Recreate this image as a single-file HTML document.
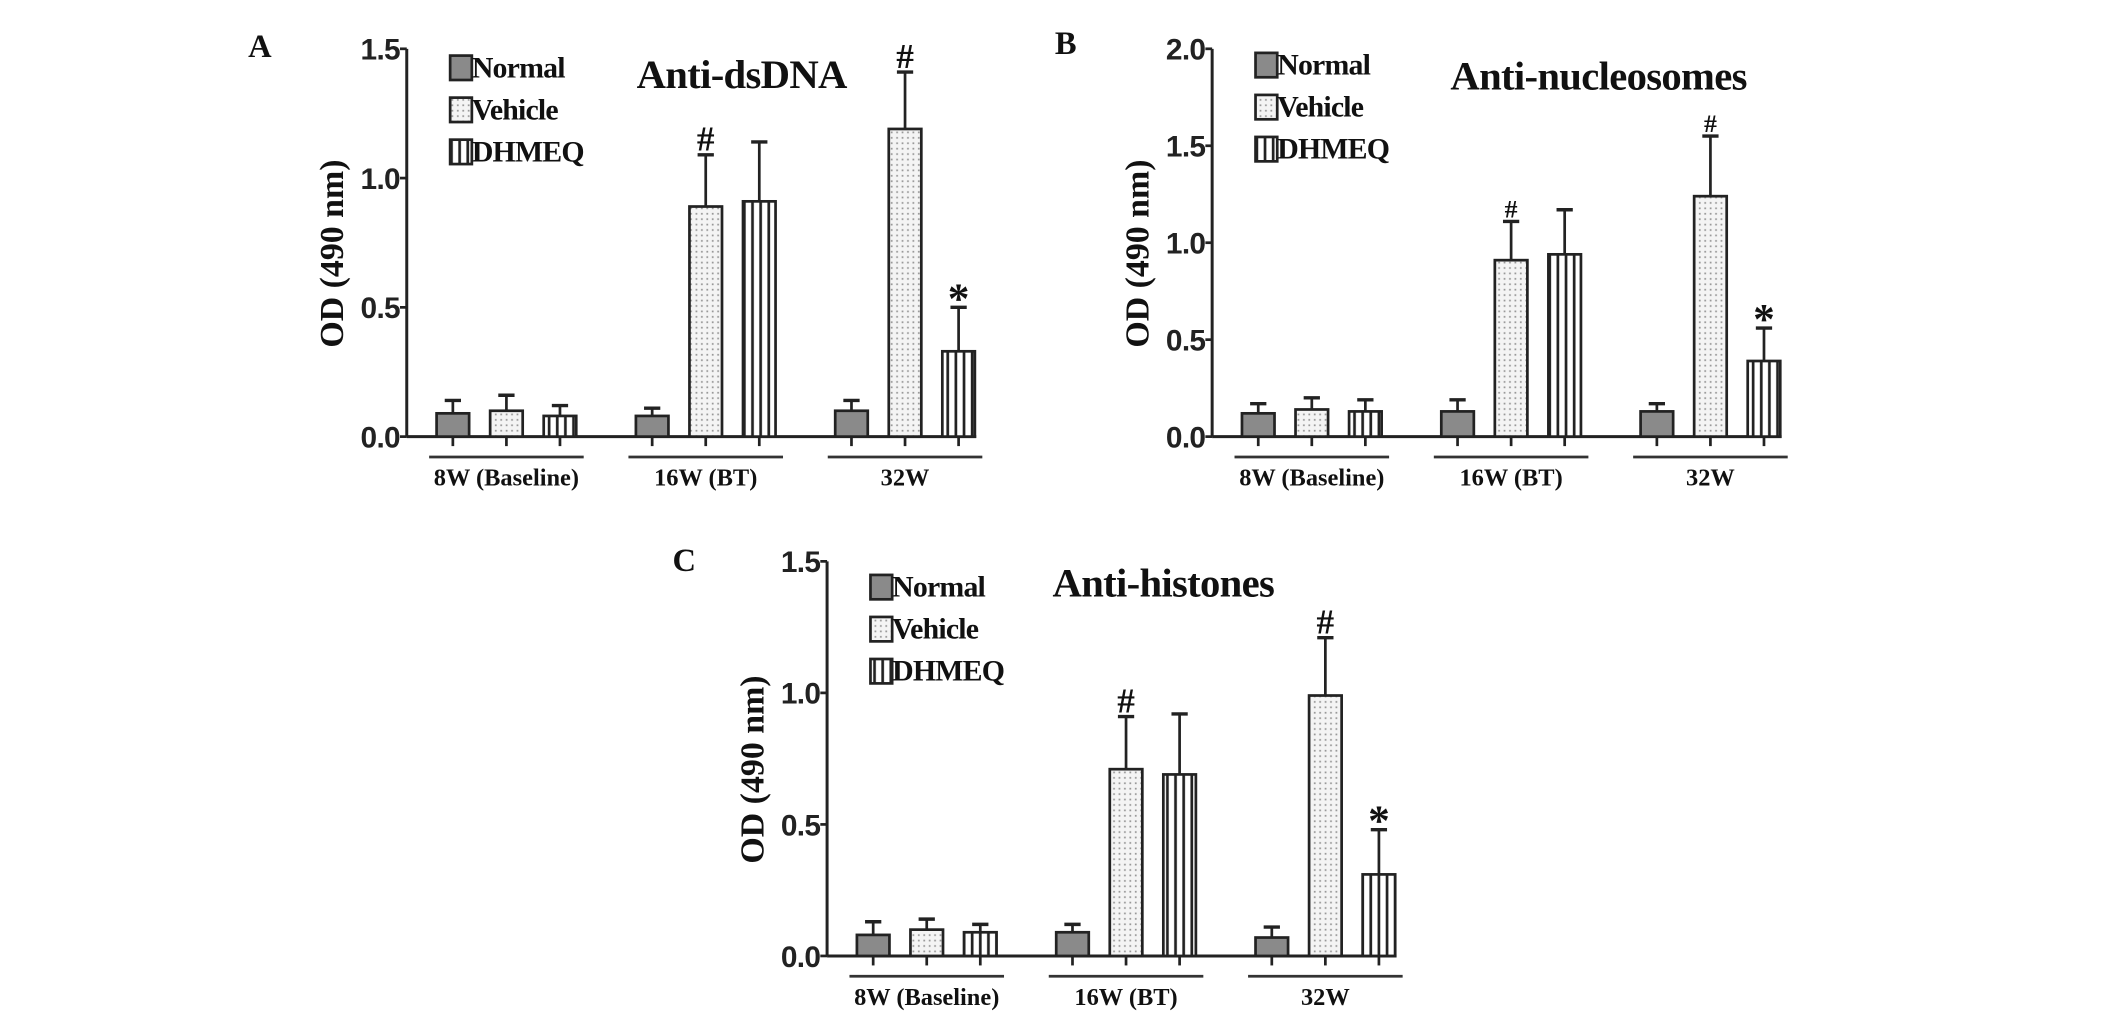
<!DOCTYPE html>
<html><head><meta charset="utf-8"><style>
html,body{margin:0;padding:0;background:#fff;}
svg{display:block;}
.tk{font-family:"Liberation Sans",sans-serif;font-weight:bold;font-size:22px;fill:#222;}
.sr{font-family:"Liberation Serif",serif;font-weight:bold;fill:#111;}
</style></head><body>
<svg id="fig" width="2126" height="1019" viewBox="0 0 1568 751.5" preserveAspectRatio="none" xmlns="http://www.w3.org/2000/svg">
<defs>
<pattern id="dots" width="4" height="4" patternUnits="userSpaceOnUse"><rect width="4" height="4" fill="#f4f4f4"/><rect x="1" y="1" width="1.3" height="1.3" fill="#999"/></pattern>
<pattern id="stripes" width="6" height="6" patternUnits="userSpaceOnUse"><rect width="6" height="6" fill="#fff"/><rect x="2" y="0" width="2" height="6" fill="#222"/></pattern>
</defs>
</svg>
<script>
const groups = ["8W (Baseline)", "16W (BT)", "32W"];
const seriesNames = ["Normal", "Vehicle", "DHMEQ"];
const aNormal = [0.09, 0.08, 0.10], aNormalErr = [0.05, 0.03, 0.04];
const aVehicle = [0.10, 0.89, 1.19], aVehicleErr = [0.06, 0.20, 0.22];
const aDhmeq = [0.08, 0.91, 0.33], aDhmeqErr = [0.04, 0.23, 0.17];
const bNormal = [0.12, 0.13, 0.13], bNormalErr = [0.05, 0.06, 0.04];
const bVehicle = [0.14, 0.91, 1.24], bVehicleErr = [0.06, 0.20, 0.31];
const bDhmeq = [0.13, 0.94, 0.39], bDhmeqErr = [0.06, 0.23, 0.17];
const cNormal = [0.08, 0.09, 0.07], cNormalErr = [0.05, 0.03, 0.04];
const cVehicle = [0.10, 0.71, 0.99], cVehicleErr = [0.04, 0.20, 0.22];
const cDhmeq = [0.09, 0.69, 0.31], cDhmeqErr = [0.03, 0.23, 0.17];
const ticksA = ["0.0", "0.5", "1.0", "1.5"];
const ticksB = ["0.0", "0.5", "1.0", "1.5", "2.0"];
const ticksC = ["0.0", "0.5", "1.0", "1.5"];
const marksA = [["", "#", "#"], ["", "", "*"]];
const marksB = [["", "#", "#"], ["", "", "*"]];
const marksC = [["", "#", "#"], ["", "", "*"]];

const svg = document.getElementById('fig');
const NS = "http://www.w3.org/2000/svg";
function mk(tag, attrs, parent) {
  const e = document.createElementNS(NS, tag);
  for (const k in attrs) e.setAttribute(k, attrs[k]);
  (parent || svg).appendChild(e);
  return e;
}
const fills = ["#8a8a8a", "url(#dots)", "url(#stripes)"];

function panel(cfg) {
  const g = mk('g', {});
  
  
  const ymax = parseFloat(cfg.ticks[cfg.ticks.length - 1]);
  const y = v => cfg.y0 - (v / ymax) * (cfg.y0 - cfg.yTop);
  const x = (gi, si) => cfg.x0 + 34 + gi * 147 + si * 39.5;
  const L = mk('text', {x: cfg.lx, y: cfg.ly, class: 'sr', 'font-size': 24}, g);
  L.textContent = cfg.letter;
  
  
  const ya = mk('line', {x1: cfg.x0, y1: cfg.yTop, x2: cfg.x0, y2: cfg.y0, stroke: '#222', 'stroke-width': 2.2}, g);
  
  
  const xa = mk('line', {x1: cfg.x0, y1: cfg.y0, x2: cfg.x0 + 420, y2: cfg.y0, stroke: '#222', 'stroke-width': 2.2}, g);
  
  
  cfg.ticks.forEach(t => {
    const v = parseFloat(t);
    mk('line', {x1: cfg.x0 - 5, y1: y(v), x2: cfg.x0, y2: y(v), stroke: '#222', 'stroke-width': 2}, g);
    const tt = mk('text', {x: cfg.x0 - 5, y: y(v) + 8, class: 'tk', 'text-anchor': 'end', 'letter-spacing': '-0.5'}, g);
    tt.textContent = t;
    
    
  });
  const yt = mk('text', {class: 'sr', 'font-size': 25, 'text-anchor': 'middle', transform: `translate(${cfg.x0 - 47},${(cfg.y0 + cfg.yTop) / 2 + 8}) rotate(-90)`}, g);
  yt.textContent = 'OD (490 nm)';
  
  
  const vals = [cfg.n, cfg.v, cfg.d], errs = [cfg.ne, cfg.ve, cfg.de];
  groups.forEach((gname, gi) => {
    for (let si = 0; si < 3; si++) {
      const cx = x(gi, si), val = vals[si][gi], er = errs[si][gi];
      const top = y(val + er);
      mk('line', {x1: cx, y1: y(val), x2: cx, y2: top, stroke: '#222', 'stroke-width': 2}, g);
      mk('line', {x1: cx - 6, y1: top, x2: cx + 6, y2: top, stroke: '#222', 'stroke-width': 2.5}, g);
      const b = mk('rect', {x: cx - 12, y: y(val), width: 24, height: cfg.y0 - y(val), fill: fills[si], stroke: '#222', 'stroke-width': 2}, g);
      
      
      mk('line', {x1: cx, y1: cfg.y0, x2: cx, y2: cfg.y0 + 7, stroke: '#222', 'stroke-width': 2}, g);
      const m = cfg.marks[si === 1 ? 0 : 1][gi];
      if ((si === 1 && cfg.marks[0][gi]) || (si === 2 && cfg.marks[1][gi])) {
        const s = mk('text', {x: cx, y: top - 3 + (m === '*' ? 16 : 0), class: 'sr', 'font-size': m === '*' ? 32 : cfg.hs, 'text-anchor': 'middle'}, g);
        if (m === '*') s.setAttribute('y', top + 14 - 10);
        s.textContent = m;
        
        
      }
    }
    const gx = x(gi, 1);
    mk('line', {x1: gx - 57, y1: cfg.y0 + 15, x2: gx + 57, y2: cfg.y0 + 15, stroke: '#333', 'stroke-width': 2}, g);
    const gl = mk('text', {x: gx, y: cfg.y0 + 36, class: 'sr', 'font-size': 18, 'text-anchor': 'middle'}, g);
    gl.textContent = gname;
    
    
  });
  seriesNames.forEach((nm, si) => {
    const ly = cfg.legY + si * 31;
    const r = mk('rect', {x: cfg.x0 + 32, y: ly, width: 16, height: 18, fill: fills[si], stroke: '#222', 'stroke-width': 2}, g);
    
    
    const t = mk('text', {x: cfg.x0 + 48, y: ly + 16, class: 'sr', 'font-size': 22, 'letter-spacing': '-0.6'}, g);
    t.textContent = nm;
    
    
  });
  const ti = mk('text', {x: cfg.tx, y: cfg.ty, class: 'sr', 'font-size': 30, 'text-anchor': 'middle', 'letter-spacing': '-0.5'}, g);
  ti.textContent = cfg.title;
  
  
}

panel({letter: 'A', lx: 183, ly: 42, x0: 300, y0: 322, yTop: 36, ticks: ticksA,
  n: aNormal, ne: aNormalErr, v: aVehicle, ve: aVehicleErr, d: aDhmeq, de: aDhmeqErr, marks: marksA,
  legY: 41, title: 'Anti-dsDNA', tx: 547, ty: 65, hs: 26});
panel({letter: 'B', lx: 778, ly: 40, x0: 894, y0: 322, yTop: 36, ticks: ticksB,
  n: bNormal, ne: bNormalErr, v: bVehicle, ve: bVehicleErr, d: bDhmeq, de: bDhmeqErr, marks: marksB,
  legY: 39, title: 'Anti-nucleosomes', tx: 1179, ty: 66, hs: 19});
panel({letter: 'C', lx: 496, ly: 421, x0: 610, y0: 705, yTop: 414, ticks: ticksC,
  n: cNormal, ne: cNormalErr, v: cVehicle, ve: cVehicleErr, d: cDhmeq, de: cDhmeqErr, marks: marksC,
  legY: 424, title: 'Anti-histones', tx: 858, ty: 440, hs: 26});
</script>
</body></html>
